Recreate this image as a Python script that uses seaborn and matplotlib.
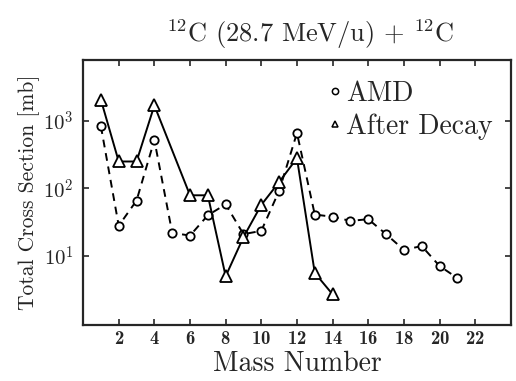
import numpy as np
import pandas as pd
import matplotlib
matplotlib.use("Agg")
import matplotlib.pyplot as plt
import seaborn as sns
from matplotlib.lines import Line2D
from matplotlib.ticker import FixedLocator, FixedFormatter, NullLocator

# ---- data ----
amd_mass = [1, 2, 3, 4, 5, 6, 7, 8, 9, 10, 11, 12, 13, 14, 15, 16, 17, 18, 19, 20, 21]
amd_xs = [830, 28, 66, 520, 22, 20, 40, 58, 21, 23.5, 92, 660, 41, 38, 33, 35, 21, 12.3, 14, 7.1, 4.7]

dec_mass = [1, 2, 3, 4, 6, 7, 8, 9, 10, 11, 12, 13, 14]
dec_xs = [2050, 250, 250, 1690, 79, 79, 5.0, 19, 57, 124, 280, 5.6, 2.7]

x_ticks = [2, 4, 6, 8, 10, 12, 14, 16, 18, 20, 22]
y_ticks = [10, 100, 1000]
y_tick_labels = ["$10^1$", "$10^2$", "$10^3$"]

title = "$^{12}$C (28.7 MeV/u) + $^{12}$C"
xlabel = "Mass Number"
ylabel = "Total Cross Section [mb]"
legend_labels = ["AMD", "After Decay"]

df_amd = pd.DataFrame({"mass": amd_mass, "xs": amd_xs})
df_dec = pd.DataFrame({"mass": dec_mass, "xs": dec_xs})

sns.set_style("ticks")
plt.rcParams["font.family"] = ["serif"]
plt.rcParams["font.serif"] = ["cmr10", "DejaVu Serif"]
plt.rcParams["mathtext.fontset"] = "cm"
plt.rcParams["axes.formatter.use_mathtext"] = True

fig = plt.figure(figsize=(5.16, 3.81), dpi=100)
ax = fig.add_axes([0.161, 0.147, 0.829, 0.696])

sns.lineplot(data=df_amd, x="mass", y="xs", ax=ax, color="black", linewidth=1.4,
             marker="o", markersize=6, markerfacecolor="white",
             markeredgecolor="black", markeredgewidth=1.3, linestyle=(0, (4, 3)))
sns.lineplot(data=df_dec, x="mass", y="xs", ax=ax, color="black", linewidth=1.4,
             marker="^", markersize=8, markerfacecolor="white",
             markeredgecolor="black", markeredgewidth=1.3, linestyle="-")

ax.set_yscale("log")
ax.set_xlim(0, 24)
ax.set_ylim(0.95, 8000)
ax.xaxis.set_major_locator(FixedLocator(x_ticks))
ax.yaxis.set_major_locator(FixedLocator(y_ticks))
ax.yaxis.set_major_formatter(FixedFormatter(y_tick_labels))
ax.yaxis.set_minor_locator(NullLocator())
ax.xaxis.set_minor_locator(NullLocator())

ax.tick_params(direction="in", top=True, right=True, length=4, width=1.2,
               labelsize=15)
ax.tick_params(axis="y", pad=7)
for lab in ax.get_xticklabels():
    lab.set_fontfamily("cmb10")
    lab.set_fontsize(13.5)
for s in ax.spines.values():
    s.set_linewidth(1.6)
    s.set_visible(True)

ax.set_xlabel(xlabel, fontsize=20, labelpad=2)
ax.set_ylabel(ylabel, fontsize=15.5, labelpad=2)
ax.set_title(title, fontsize=19, pad=13, x=0.53)

handles = [
    Line2D([], [], linestyle="none", marker="o", markersize=4.5, markerfacecolor="white",
           markeredgecolor="black", markeredgewidth=1.1),
    Line2D([], [], linestyle="none", marker="^", markersize=4.5, markerfacecolor="white",
           markeredgecolor="black", markeredgewidth=1.1),
]
ax.legend(handles, legend_labels, loc="upper right", frameon=False, fontsize=20,
          handlelength=0.4, handletextpad=0.2, labelspacing=0.25,
          borderaxespad=0.1, bbox_to_anchor=(0.99, 0.975))

fig.savefig("out.png", dpi=100)
